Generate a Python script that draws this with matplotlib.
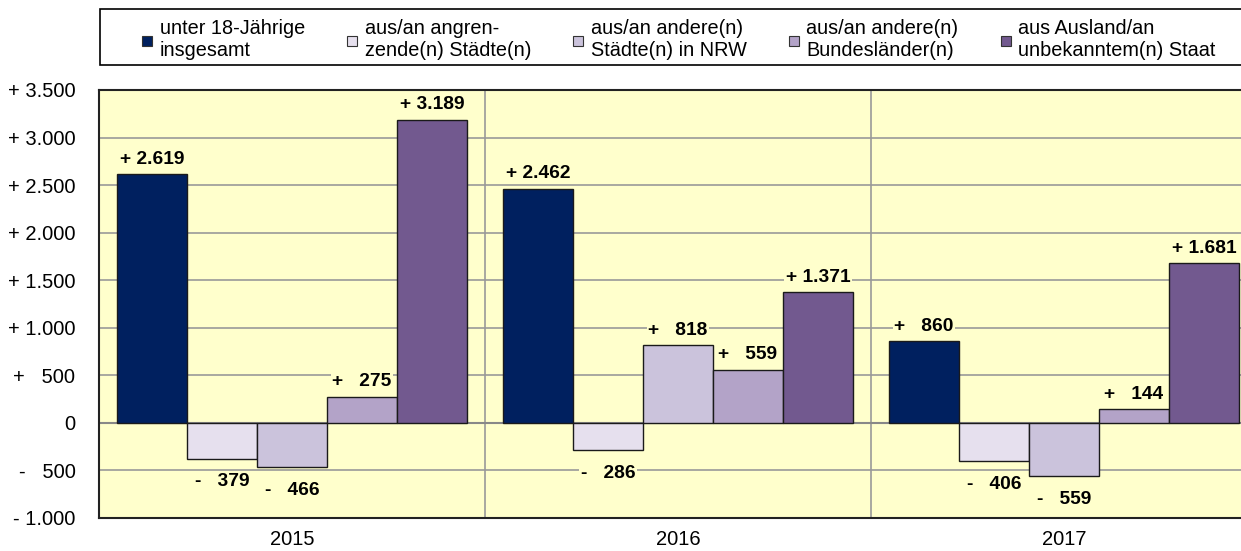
import numpy as np
import matplotlib.pyplot as plt
from matplotlib.lines import Line2D
from matplotlib.patches import Rectangle

plt.rcParams['font.family'] = ['Liberation Sans', 'DejaVu Sans']

years = ['2015', '2016', '2017']
series = ['unter 18-Jährige\ninsgesamt',
          'aus/an angren-\nzende(n) Städte(n)',
          'aus/an andere(n)\nStädte(n) in NRW',
          'aus/an andere(n)\nBundesländer(n)',
          'aus Ausland/an\nunbekanntem(n) Staat']
insgesamt = [2619, 2462, 860]
angrenzend = [-379, -286, -406]
nrw = [-466, 818, -559]
bundeslaender = [275, 559, 144]
ausland = [3189, 1371, 1681]
values = [insgesamt, angrenzend, nrw, bundeslaender, ausland]
colors = ['#00205F', '#E6E0EE', '#CBC3DC', '#B3A3C8', '#72598F']

yticks = [-1000, -500, 0, 500, 1000, 1500, 2000, 2500, 3000, 3500]
ylabels = ['- 1.000', '-   500', '0', '+   500', '+ 1.000', '+ 1.500',
           '+ 2.000', '+ 2.500', '+ 3.000', '+ 3.500']


def fmt(v):
    s = '+' if v > 0 else '-'
    a = abs(v)
    if a >= 1000:
        return f'{s} {a // 1000}.{a % 1000:03d}'
    return f'{s}   {a}'


fig = plt.figure(figsize=(12.41, 5.51), dpi=100)
ax = fig.add_axes([0.0798, 0.060, 0.9202, 0.7767])
ax.set_facecolor('#FFFFCC')

x = np.arange(len(years))
w = 0.1813
for k, (vals, col) in enumerate(zip(values, colors)):
    pos = x + (k - 2) * w
    ax.bar(pos, vals, width=w, color=col, edgecolor='#1a1a1a', linewidth=1, zorder=3)
    for px, v in zip(pos, vals):
        off = 4.5 if v > 0 else -10.5
        ax.annotate(fmt(v), (px, v), xytext=(0, off), textcoords='offset points',
                    ha='center', va='bottom' if v > 0 else 'top',
                    fontsize=13.8, fontweight='bold', zorder=4,
                    bbox=dict(facecolor='#FFFFCC', edgecolor='none', pad=1))

ax.set_ylim(-1000, 3500)
ax.set_xlim(-0.5, 2.4585)
ax.set_yticks(yticks, ylabels)
ax.set_xticks(x, years)
ax.tick_params(axis='y', length=0, pad=17, labelsize=14.5)
ax.tick_params(axis='x', length=0, pad=9, labelsize=14.5)
ax.grid(axis='y', color='#999999', linewidth=1.2, zorder=1)
ax.set_axisbelow(True)
for xv in [0.5, 1.5]:
    ax.axvline(xv, color='#999999', linewidth=1.2, zorder=1)
ax.axhline(0, color='#888888', linewidth=1.5, zorder=2)
for sp in ['top', 'left', 'bottom']:
    ax.spines[sp].set_color('#222222')
    ax.spines[sp].set_linewidth(1.5)
ax.spines['right'].set_visible(False)

# legend frame runs off the right edge like in the original
fig.patches.append(Rectangle((100 / 1241, 1 - 65 / 551), 1.0, 56 / 551,
                             transform=fig.transFigure, facecolor='white',
                             edgecolor='black', linewidth=1.2, zorder=0))

handles = [Line2D([], [], marker='s', linestyle='none', markersize=7,
                  markerfacecolor=c, markeredgecolor='#333333', markeredgewidth=0.8)
           for c in colors]
leg = fig.legend(handles, series, ncol=5, loc='center left',
                 bbox_to_anchor=(142 / 1241, 1 - 40 / 551),
                 fontsize=14.3, frameon=False,
                 handlelength=0.55, handletextpad=0.35, columnspacing=2.1,
                 borderpad=0, borderaxespad=0)

fig.savefig('out.png', dpi=100)
